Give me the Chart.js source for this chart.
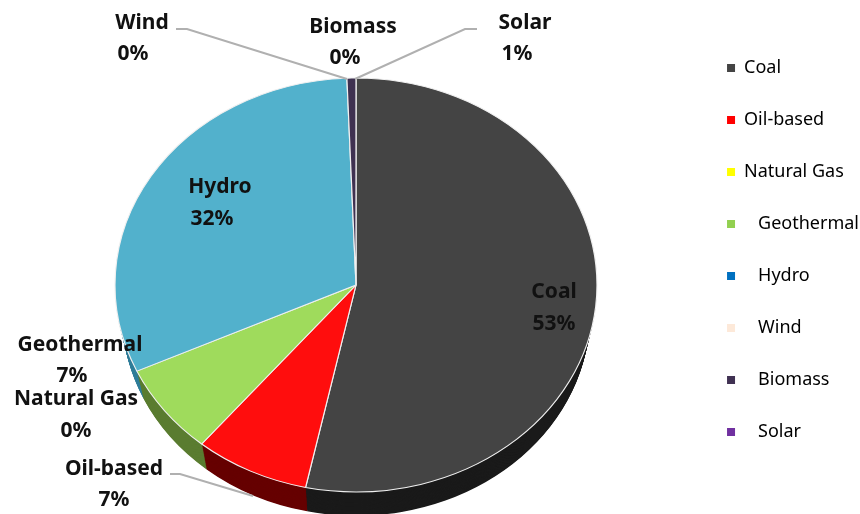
<!DOCTYPE html>
<html>
<head>
<meta charset="utf-8">
<script src="https://cdn.jsdelivr.net/npm/chart.js@4/dist/chart.umd.min.js"></script>
<style>
  html, body { margin: 0; padding: 0; background: #fff; }
  #wrap { position: relative; width: 860px; height: 514px; overflow: hidden; }
</style>
</head>
<body>
<div id="wrap"><canvas id="mixChart" width="860" height="514"></canvas></div>
<script>
const categories = ['Coal', 'Oil-based', 'Natural Gas', 'Geothermal', 'Hydro', 'Wind', 'Biomass', 'Solar'];
const shares = [53.3, 7.7, 0, 7.1, 31.2, 0, 0, 0.6];
const shareLabels = ['53%', '7%', '0%', '7%', '32%', '0%', '0%', '1%'];
// the slices are shaded differently from the legend swatches
const sliceColors = ['#444444', '#ff0d0d', '#ffff00', '#9fdb5c', '#52b1cc', '#fde9d9', '#3f3151', '#3f3151'];
const sideColors = ['#1a1a1a', '#660000', '#808000', '#5a7c30', '#2f7d99', '#8a7a70', '#2a2036', '#2a2036'];
const legendColors = ['#444444', '#ff0000', '#ffff00', '#92d050', '#0070c0', '#fde9d9', '#403152', '#7030a0'];
const legendIndent = ['', '', '', '   ', '   ', '   ', '   ', '   '];

// label placement: name x, name y, percent x, percent y
const labelSpots = [
    [554, 292, 554, 324], [114, 469, 114, 500], [76, 399, 76, 431], [80, 345, 72, 376],
    [220, 187, 212, 219], [142, 23, 133, 54], [353, 27, 345, 58], [525, 23, 517, 54]
];
const leaders = [
    [[176, 29], [187, 29], [347, 79]],
    [[477, 29], [465, 29], [355, 79]],
    [[170, 474], [180, 474], [253, 496]]
];
const pieCentre = { x: 356, y: 285 };
const squash = 207 / 241;
const depth = 30;
const wallShrink = 0.03; // wall narrows going down, so it only shows low on the sides

function tilt(ctx, arc, extra) {
    ctx.translate(pieCentre.x, pieCentre.y + extra);
    ctx.scale(1, squash);
    ctx.translate(-arc.x, -arc.y);
}

const tiltPlugin = {
    id: 'tiltPlugin',
    beforeDatasetsDraw(chart) {
        const ctx = chart.ctx;
        const arcs = chart.getDatasetMeta(0).data;
        // side wall first, deepest layer up
        for (let d = depth; d > 0; d--) {
            arcs.forEach((arc, i) => {
                if (arc.endAngle - arc.startAngle <= 0) return;
                ctx.save();
                tilt(ctx, arc, d);
                ctx.fillStyle = sideColors[i];
                ctx.beginPath();
                ctx.moveTo(arc.x, arc.y);
                ctx.arc(arc.x, arc.y, arc.outerRadius * (1 - wallShrink * d / depth), arc.startAngle, arc.endAngle);
                ctx.closePath();
                ctx.fill();
                ctx.restore();
            });
        }
        ctx.save();
        tilt(ctx, arcs[0], 0);
    },
    afterDatasetsDraw(chart) {
        const ctx = chart.ctx;
        ctx.restore();

        ctx.save();
        ctx.strokeStyle = '#b0b0b0';
        ctx.lineWidth = 2;
        leaders.forEach(pts => {
            ctx.beginPath();
            pts.forEach((p, i) => i ? ctx.lineTo(p[0], p[1]) : ctx.moveTo(p[0], p[1]));
            ctx.stroke();
        });
        ctx.fillStyle = '#111111';
        ctx.font = 'bold 21px "Noto Sans"';
        ctx.textAlign = 'center';
        ctx.textBaseline = 'middle';
        categories.forEach((name, i) => {
            const spot = labelSpots[i];
            ctx.fillText(name, spot[0], spot[1]);
            ctx.fillText(shareLabels[i], spot[2], spot[3]);
        });
        ctx.restore();
    }
};

new Chart(document.getElementById('mixChart'), {
    type: 'pie',
    data: {
        labels: categories,
        datasets: [{
            data: shares,
            backgroundColor: sliceColors,
            borderColor: '#f0f0f0',
            borderWidth: 1.2,
            radius: 241,
            clip: false
        }]
    },
    options: {
        responsive: false,
        animation: false,
        layout: { padding: { right: -9, bottom: 14 } },
        plugins: {
            tooltip: { enabled: false },
            legend: {
                position: 'right',
                labels: {
                    boxWidth: 8,
                    boxHeight: 8,
                    padding: 34,
                    color: '#222222',
                    font: { family: '"Noto Sans"', size: 18 },
                    generateLabels: () => categories.map((name, i) => ({
                        text: legendIndent[i] + name,
                        fillStyle: legendColors[i],
                        strokeStyle: legendColors[i],
                        lineWidth: 0,
                        index: i
                    }))
                }
            }
        }
    },
    plugins: [tiltPlugin]
});
</script>
</body>
</html>
